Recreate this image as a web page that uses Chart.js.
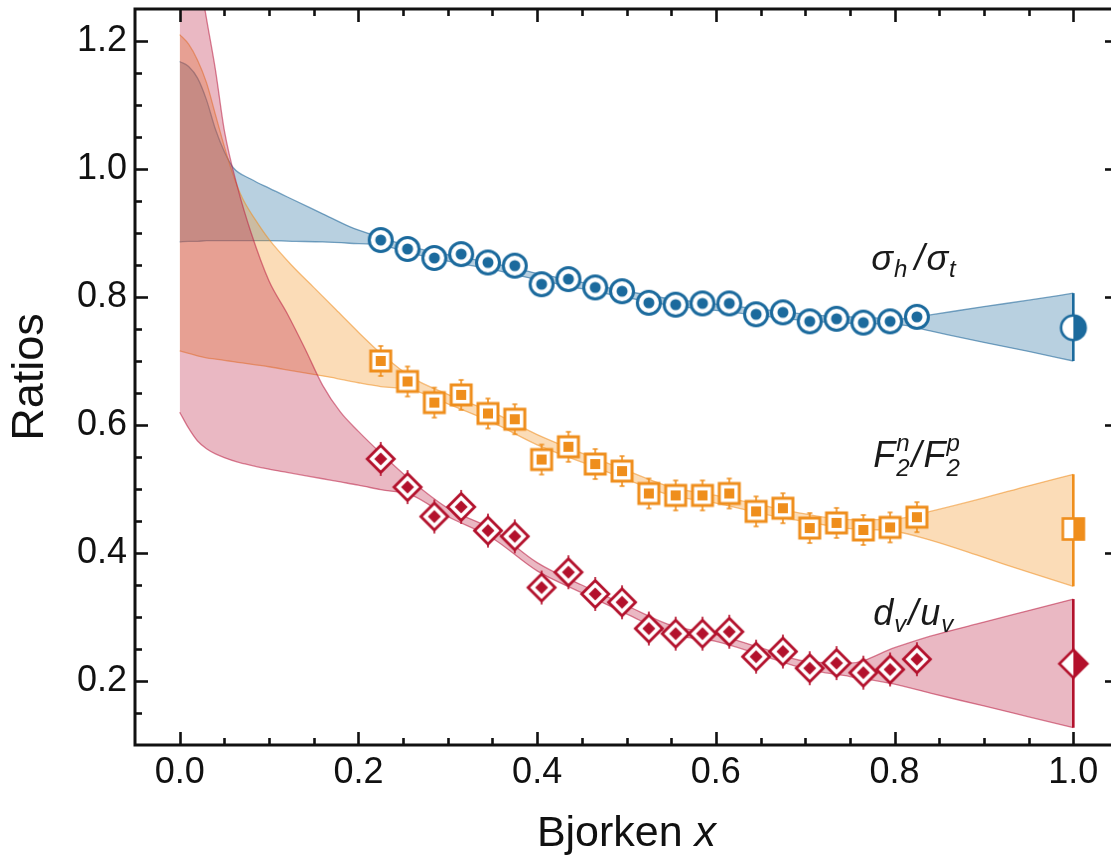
<!DOCTYPE html>
<html>
<head>
<meta charset="utf-8">
<script src="https://cdn.jsdelivr.net/npm/chart.js@4"></script>
<style>
  html, body { margin: 0; padding: 0; background: #fff; overflow: hidden; }
  #wrap { position: relative; width: 1111px; height: 860px; overflow: hidden; }
  canvas { display: block; position: absolute; left: 0; top: -5px; }
</style>
</head>
<body>
<div id="wrap"><canvas id="c" width="1140" height="865" style="width:1140px;height:865px"></canvas></div>
<script>
// ---- measured points (Bjorken x bins) ----
const xBins = [0.225, 0.255, 0.285, 0.315, 0.345, 0.375, 0.405, 0.435, 0.465, 0.495, 0.525,
               0.555, 0.585, 0.615, 0.645, 0.675, 0.705, 0.735, 0.765, 0.795, 0.825];
const sigmaRatio = [0.889, 0.875, 0.861, 0.867, 0.854, 0.849, 0.820, 0.828, 0.815, 0.809, 0.791,
                    0.788, 0.790, 0.790, 0.773, 0.776, 0.762, 0.766, 0.760, 0.762, 0.769];
const f2Ratio    = [0.700, 0.668, 0.635, 0.647, 0.618, 0.609, 0.546, 0.566, 0.539, 0.528, 0.493,
                    0.490, 0.490, 0.493, 0.465, 0.470, 0.439, 0.447, 0.436, 0.440, 0.456];
const dvuvRatio  = [0.547, 0.503, 0.457, 0.472, 0.435, 0.426, 0.346, 0.370, 0.336, 0.323, 0.282,
                    0.274, 0.274, 0.277, 0.238, 0.246, 0.220, 0.228, 0.213, 0.218, 0.234];

// ---- x -> 1 values ----
const endX = [1.0];
const sigmaEnd = [0.752];
const f2End = [0.4375];
const dvuvEnd = [0.227];

// ---- uncertainty bands ----
const sigmaBandX  = [0, 0.01, 0.02, 0.03, 0.04, 0.05, 0.06, 0.08, 0.1, 0.13, 0.16, 0.19, 0.225, 0.26,
                     0.3, 0.35, 0.4, 0.45, 0.5, 0.55, 0.6, 0.65, 0.7, 0.75, 0.81, 0.84, 0.9, 0.95, 1.0];
const sigmaBandHi = [1.168, 1.160, 1.142, 1.108, 1.062, 1.027, 1.002, 0.984, 0.970, 0.950, 0.930, 0.910, 0.893, 0.878,
                     0.866, 0.853, 0.837, 0.823, 0.809, 0.797, 0.789, 0.781, 0.773, 0.769, 0.766, 0.772, 0.785, 0.795, 0.806];
const sigmaBandLo = [0.886, 0.887, 0.887, 0.888, 0.888, 0.888, 0.888, 0.888, 0.888, 0.887, 0.886, 0.884, 0.881, 0.868,
                     0.856, 0.843, 0.827, 0.813, 0.799, 0.787, 0.779, 0.771, 0.763, 0.759, 0.756, 0.747, 0.729, 0.715, 0.700];

const f2BandX  = [0, 0.01, 0.02, 0.03, 0.04, 0.05, 0.06, 0.07, 0.085, 0.1, 0.125, 0.15, 0.175, 0.2, 0.225, 0.26,
                  0.3, 0.35, 0.4, 0.45, 0.5, 0.55, 0.6, 0.65, 0.7, 0.75, 0.8, 0.84, 0.9, 0.95, 1.0];
const f2BandHi = [1.210, 1.195, 1.170, 1.135, 1.085, 1.035, 0.990, 0.955, 0.920, 0.890, 0.850, 0.815, 0.780, 0.745, 0.712, 0.674,
                  0.648, 0.620, 0.585, 0.556, 0.529, 0.503, 0.490, 0.475, 0.461, 0.452, 0.453, 0.465, 0.486, 0.505, 0.523];
const f2BandLo = [0.716, 0.712, 0.708, 0.705, 0.703, 0.701, 0.699, 0.697, 0.694, 0.691, 0.685, 0.679, 0.673, 0.666, 0.660, 0.655,
                  0.633, 0.604, 0.569, 0.542, 0.515, 0.490, 0.478, 0.462, 0.449, 0.438, 0.434, 0.420, 0.393, 0.370, 0.348];

const dvuvBandX  = [0, 0.01, 0.02, 0.03, 0.04, 0.05, 0.065, 0.08, 0.1, 0.12, 0.14, 0.16, 0.18, 0.2, 0.225, 0.26,
                    0.3, 0.35, 0.4, 0.45, 0.5, 0.55, 0.6, 0.65, 0.7, 0.75, 0.8, 0.84, 0.9, 0.95, 1.0];
const dvuvBandHi = [1.600, 1.450, 1.320, 1.235, 1.155, 1.060, 0.970, 0.900, 0.825, 0.775, 0.720, 0.662, 0.620, 0.590, 0.556, 0.512,
                    0.470, 0.437, 0.385, 0.350, 0.318, 0.287, 0.273, 0.252, 0.231, 0.228, 0.252, 0.270, 0.292, 0.310, 0.328];
const dvuvBandLo = [0.620, 0.595, 0.575, 0.563, 0.555, 0.549, 0.542, 0.537, 0.531, 0.526, 0.521, 0.516, 0.511, 0.506, 0.499, 0.490,
                    0.457, 0.423, 0.372, 0.338, 0.305, 0.273, 0.262, 0.241, 0.219, 0.207, 0.195, 0.181, 0.161, 0.144, 0.127];

// ---- axes ----
const xTickValues = [0.0, 0.2, 0.4, 0.6, 0.8, 1.0];
const yTickValues = [0.2, 0.4, 0.6, 0.8, 1.0, 1.2];
const xRange = [-0.05, 1.05];
const yRange = [0.1, 1.25];

// ---- colours ----
const BLUE = '#1b6a9d', ORANGE = '#ef8e1c', RED = '#b3112c';
const FONT = "'Liberation Sans', Arial, Helvetica, sans-serif";

const pts = (xs, ys) => xs.map((x, i) => ({ x, y: ys[i] }));

// ---- marker glyphs ----
function glyph(size, draw) {
  const c = document.createElement('canvas');
  c.width = size; c.height = size;
  const g = c.getContext('2d');
  draw(g, size / 2);
  return c;
}
const circleMark = glyph(32, (g, m) => {
  g.beginPath(); g.arc(m, m, 11.5, 0, Math.PI * 2);
  g.fillStyle = '#fff'; g.fill();
  g.lineWidth = 3; g.strokeStyle = BLUE; g.stroke();
  g.beginPath(); g.arc(m, m, 5.5, 0, Math.PI * 2);
  g.fillStyle = BLUE; g.fill();
});
const squareMark = glyph(34, (g, m) => {
  g.strokeStyle = ORANGE; g.fillStyle = ORANGE;
  g.lineWidth = 1.6;
  g.beginPath();
  g.moveTo(m, m - 10.5); g.lineTo(m, m - 15);
  g.moveTo(m - 2.5, m - 15); g.lineTo(m + 2.5, m - 15);
  g.moveTo(m, m + 10.5); g.lineTo(m, m + 15);
  g.moveTo(m - 2.5, m + 15); g.lineTo(m + 2.5, m + 15);
  g.stroke();
  g.fillStyle = '#fff'; g.fillRect(m - 10, m - 10, 20, 20);
  g.lineWidth = 3; g.strokeRect(m - 10, m - 10, 20, 20);
  g.fillStyle = ORANGE; g.fillRect(m - 5, m - 5, 10, 10);
});
const diamondMark = glyph(36, (g, m) => {
  g.strokeStyle = RED;
  g.lineWidth = 1.6;
  g.beginPath();
  g.moveTo(m, m - 13); g.lineTo(m, m - 17);
  g.moveTo(m, m + 13); g.lineTo(m, m + 17);
  g.stroke();
  const d = 13.5;
  g.beginPath(); g.moveTo(m, m - d); g.lineTo(m + d, m); g.lineTo(m, m + d); g.lineTo(m - d, m); g.closePath();
  g.fillStyle = '#fff'; g.fill();
  g.lineWidth = 2.8; g.stroke();
  const e = 6.5;
  g.beginPath(); g.moveTo(m, m - e); g.lineTo(m + e, m); g.lineTo(m, m + e); g.lineTo(m - e, m); g.closePath();
  g.fillStyle = RED; g.fill();
});
const halfCircle = glyph(34, (g, m) => {
  const r = 12.3;
  g.beginPath(); g.arc(m, m, r, 0, Math.PI * 2);
  g.fillStyle = '#fff'; g.fill();
  g.beginPath(); g.arc(m, m, r, -Math.PI / 2, Math.PI / 2); g.closePath();
  g.fillStyle = BLUE; g.fill();
  g.beginPath(); g.arc(m, m, r, 0, Math.PI * 2);
  g.lineWidth = 2.6; g.strokeStyle = BLUE; g.stroke();
});
const halfSquare = glyph(32, (g, m) => {
  g.fillStyle = '#fff'; g.fillRect(m - 10.5, m - 10.5, 21, 21);
  g.fillStyle = ORANGE; g.fillRect(m, m - 10.5, 10.5, 21);
  g.lineWidth = 2.6; g.strokeStyle = ORANGE; g.strokeRect(m - 10.5, m - 10.5, 21, 21);
});
const halfDiamond = glyph(36, (g, m) => {
  const d = 14;
  g.beginPath(); g.moveTo(m, m - d); g.lineTo(m + d, m); g.lineTo(m, m + d); g.lineTo(m - d, m); g.closePath();
  g.fillStyle = '#fff'; g.fill();
  g.beginPath(); g.moveTo(m, m - d); g.lineTo(m + d, m); g.lineTo(m, m + d); g.closePath();
  g.fillStyle = RED; g.fill();
  g.beginPath(); g.moveTo(m, m - d); g.lineTo(m + d, m); g.lineTo(m, m + d); g.lineTo(m - d, m); g.closePath();
  g.lineWidth = 2.6; g.strokeStyle = RED; g.stroke();
});

// ---- dataset builders (lower "order" is drawn on top) ----
function band(xs, hi, lo, fill, edge) {
  const common = {
    type: 'line', order: 3, pointRadius: 0, borderWidth: 1.3, borderColor: edge,
    cubicInterpolationMode: 'monotone', backgroundColor: fill
  };
  return [
    Object.assign({ data: pts(xs, hi), fill: false }, common),
    Object.assign({ data: pts(xs, lo), fill: '-1' }, common)
  ];
}
function endBar(xs, hi, lo, color) {
  const n = hi.length - 1;
  return {
    type: 'line', order: 2, data: [{ x: xs[xs.length - 1], y: lo[n] }, { x: xs[xs.length - 1], y: hi[n] }],
    borderColor: color, borderWidth: 2.6, pointRadius: 0, fill: false
  };
}
function markers(xs, ys, style) {
  return { type: 'scatter', order: 1, data: pts(xs, ys), pointStyle: style, pointRadius: 13, showLine: false };
}

const datasets = [
  ...band(dvuvBandX, dvuvBandHi, dvuvBandLo, 'rgba(192,38,72,0.33)', 'rgba(185,30,65,0.55)'),
  ...band(f2BandX, f2BandHi, f2BandLo, 'rgba(243,150,35,0.33)', 'rgba(238,140,30,0.55)'),
  ...band(sigmaBandX, sigmaBandHi, sigmaBandLo, 'rgba(40,112,162,0.33)', 'rgba(35,105,155,0.6)'),
  endBar(sigmaBandX, sigmaBandHi, sigmaBandLo, BLUE),
  endBar(f2BandX, f2BandHi, f2BandLo, ORANGE),
  endBar(dvuvBandX, dvuvBandHi, dvuvBandLo, RED),
  markers(xBins, sigmaRatio, circleMark),
  markers(xBins, f2Ratio, squareMark),
  markers(xBins, dvuvRatio, diamondMark),
  markers(endX, sigmaEnd, halfCircle),
  markers(endX, f2End, halfSquare),
  markers(endX, dvuvEnd, halfDiamond)
];

// ---- frame with inward ticks on all four sides ----
const frameTicks = {
  id: 'frameTicks',
  afterDatasetsDraw(chart) {
    const { ctx, chartArea: a, scales: { x, y } } = chart;
    ctx.save();
    ctx.strokeStyle = '#111';
    ctx.lineCap = 'butt';
    const step = 0.05, major = 0.2;
    const isMajor = v => Math.abs(v / major - Math.round(v / major)) < 1e-6;
    // x ticks (bottom and top)
    for (let i = 1; i < Math.round((xRange[1] - xRange[0]) / step); i++) {
      const v = xRange[0] + i * step;
      const px = Math.round(x.getPixelForValue(v)) + 0.5;
      const len = isMajor(v) ? 13 : 7;
      ctx.lineWidth = 2.6;
      ctx.beginPath();
      ctx.moveTo(px, a.bottom); ctx.lineTo(px, a.bottom - len);
      ctx.moveTo(px, a.top); ctx.lineTo(px, a.top + len);
      ctx.stroke();
    }
    // y ticks (left and right)
    for (let i = 1; i < Math.round((yRange[1] - yRange[0]) / step); i++) {
      const v = yRange[0] + i * step;
      const py = Math.round(y.getPixelForValue(v)) + 0.5;
      const maj = isMajor(v);
      const len = maj ? 13 : 7;
      ctx.lineWidth = 2.6;
      ctx.strokeStyle = '#111';
      ctx.beginPath();
      ctx.moveTo(a.left, py); ctx.lineTo(a.left + len, py);
      ctx.stroke();
      ctx.strokeStyle = maj ? '#111' : 'rgba(0,0,0,0.1)';
      ctx.beginPath();
      ctx.moveTo(a.right, py); ctx.lineTo(a.right - len, py);
      ctx.stroke();
    }
    ctx.strokeStyle = '#111';
    ctx.lineWidth = 3;
    ctx.strokeRect(a.left, a.top, a.right - a.left, a.bottom - a.top);
    ctx.restore();
  }
};

// ---- curve labels and x-axis title ----
function drawParts(ctx, x, y, parts) {
  for (const p of parts) {
    ctx.font = (p.up ? '' : 'italic ') + p.size + 'px ' + FONT;
    if (p.sup !== undefined) {
      ctx.fillText(p.sup, x, y + p.supDy);
      ctx.fillText(p.sub, x, y + p.subDy);
      x += Math.max(ctx.measureText(p.sup).width, ctx.measureText(p.sub).width) + (p.gap || 0);
    } else {
      ctx.fillText(p.t, x, y + (p.dy || 0));
      x += ctx.measureText(p.t).width + (p.gap || 0);
    }
  }
  return x;
}
const curveLabels = {
  id: 'curveLabels',
  afterDraw(chart) {
    const { ctx, chartArea: a, scales: { x, y } } = chart;
    ctx.save();
    ctx.fillStyle = '#1a1a1a';
    ctx.textBaseline = 'alphabetic';
    ctx.textAlign = 'left';
    const L = 36, S = 24;
    drawParts(ctx, x.getPixelForValue(0.774), y.getPixelForValue(0.842), [
      { t: 'σ', size: L, gap: 1 }, { t: 'h', size: S, dy: 7, gap: 7 }, { t: '/', size: L, gap: 2 },
      { t: 'σ', size: L, gap: 1 }, { t: 't', size: S, dy: 7 }
    ]);
    drawParts(ctx, x.getPixelForValue(0.776), y.getPixelForValue(0.535), [
      { t: 'F', size: L, gap: 1 }, { sup: 'n', sub: '2', size: S, supDy: -16, subDy: 9, gap: 2 },
      { t: '/', size: L, gap: 2 },
      { t: 'F', size: L, gap: 1 }, { sup: 'p', sub: '2', size: S, supDy: -16, subDy: 9 }
    ]);
    drawParts(ctx, x.getPixelForValue(0.776), y.getPixelForValue(0.288), [
      { t: 'd', size: L, gap: 1 }, { t: 'v', size: S, dy: 7, gap: 2 }, { t: '/', size: L, gap: 2 },
      { t: 'u', size: L, gap: 1 }, { t: 'v', size: S, dy: 7 }
    ]);
    // x-axis title: "Bjorken x", set below the plot area
    const T = 43;
    const baseY = a.bottom + 101;
    ctx.fillStyle = '#111';
    ctx.font = T + 'px ' + FONT;
    const w1 = ctx.measureText('Bjorken ').width;
    ctx.font = 'italic ' + T + 'px ' + FONT;
    const w2 = ctx.measureText('x').width;
    const cx = (a.left + a.right) / 2;
    const sx = cx - (w1 + w2) / 2;
    ctx.font = T + 'px ' + FONT;
    ctx.fillText('Bjorken ', sx, baseY);
    ctx.font = 'italic ' + T + 'px ' + FONT;
    ctx.fillText('x', sx + w1, baseY);
    ctx.restore();
  }
};

new Chart(document.getElementById('c'), {
  type: 'scatter',
  data: { datasets },
  plugins: [frameTicks, curveLabels],
  options: {
    responsive: false,
    devicePixelRatio: 1,
    animation: false,
    events: [],
    layout: { padding: { left: 0, right: 22, top: 3, bottom: 0 } },
    plugins: { legend: { display: false }, tooltip: { enabled: false } },
    scales: {
      x: {
        type: 'linear', min: xRange[0], max: xRange[1],
        grid: { display: false, drawTicks: false },
        border: { display: false },
        afterBuildTicks: s => { s.ticks = xTickValues.map(v => ({ value: v })); },
        afterFit: s => { s.height = 115; s.paddingLeft = 0; s.paddingRight = 0; },
        ticks: {
          padding: 6, color: '#111', maxRotation: 0, autoSkip: false,
          font: { family: FONT, size: 36 },
          callback: v => Number(v).toFixed(1)
        }
      },
      y: {
        type: 'linear', min: yRange[0], max: yRange[1],
        grid: { display: false, drawTicks: false },
        border: { display: false },
        afterBuildTicks: s => { s.ticks = yTickValues.map(v => ({ value: v })); },
        afterFit: s => { s.width = 135; s.paddingTop = 0; s.paddingBottom = 0; },
        ticks: {
          padding: 8, color: '#111', autoSkip: false,
          font: { family: FONT, size: 36 },
          callback: v => Number(v).toFixed(1)
        },
        title: {
          display: true, text: 'Ratios', color: '#111',
          font: { family: FONT, size: 45 }, padding: { top: 4, bottom: 0 }
        }
      }
    }
  }
});
</script>
</body>
</html>
